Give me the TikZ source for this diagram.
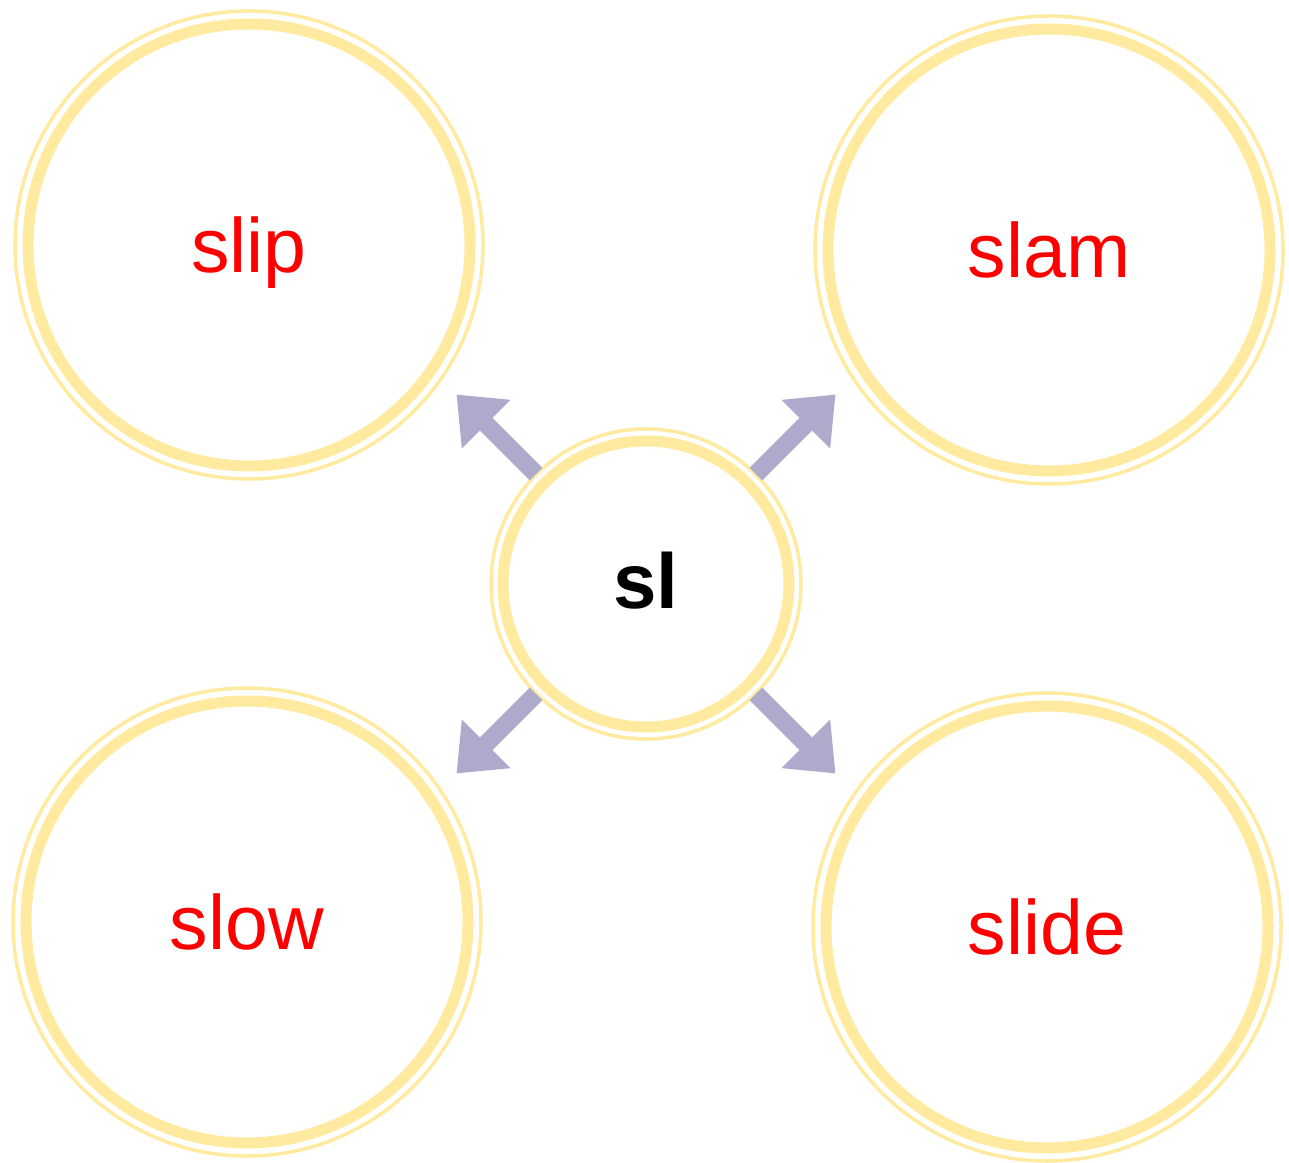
\documentclass[tikz,border=0pt]{standalone}
\usepackage{fontspec}
\setmainfont{Liberation Sans}
\usetikzlibrary{arrows.meta}
\definecolor{ringyellow}{RGB}{255,234,160}
\definecolor{arrowlilac}{RGB}{173,170,204}
\definecolor{wordred}{RGB}{255,0,0}
\begin{document}
\begin{tikzpicture}[x=1pt,y=1pt,
  bigring/.style={circle,draw=ringyellow,line width=11pt,minimum size=442pt,inner sep=0pt,
    font=\fontsize{77}{80}\selectfont,text=wordred,text height=55pt,text depth=0pt},
  hubring/.style={circle,draw=ringyellow,line width=11pt,minimum size=286pt,inner sep=0pt,
    font=\fontsize{78}{80}\selectfont\bfseries,text height=49pt,text depth=0pt},
  thinring/.style={draw=ringyellow,line width=3.5pt},
  spoke/.style={draw=arrowlilac,line width=18pt,-{Triangle[length=42pt,width=66pt]},shorten <=7pt}]
  \useasboundingbox (0,0) rectangle (1289,1162);
  % the four words
  \node[bigring] (slip) at (249,917) {slip};
  \node[bigring] (slam) at (1049,912) {slam};
  \node[bigring] (slow) at (247,240) {slow};
  \node[bigring] (slide) at (1047,235) {slide};
  % the blend in the middle
  \node[hubring] (hub) at (646,578) {sl};
  \foreach \w in {slip,slam,slow,slide}
    \draw[thinring] (\w.center) circle[radius=234pt];
  \draw[thinring] (hub.center) circle[radius=155pt];
  % arrows out of the hub
  \path (hub.center) ++(135:268pt) coordinate (tipslip);
  \path (hub.center) ++(45:268pt) coordinate (tipslam);
  \path (hub.center) ++(225:268pt) coordinate (tipslow);
  \path (hub.center) ++(315:268pt) coordinate (tipslide);
  \draw[spoke] (hub.135) -- (tipslip);
  \draw[spoke] (hub.45) -- (tipslam);
  \draw[spoke] (hub.225) -- (tipslow);
  \draw[spoke] (hub.315) -- (tipslide);
\end{tikzpicture}
\end{document}
